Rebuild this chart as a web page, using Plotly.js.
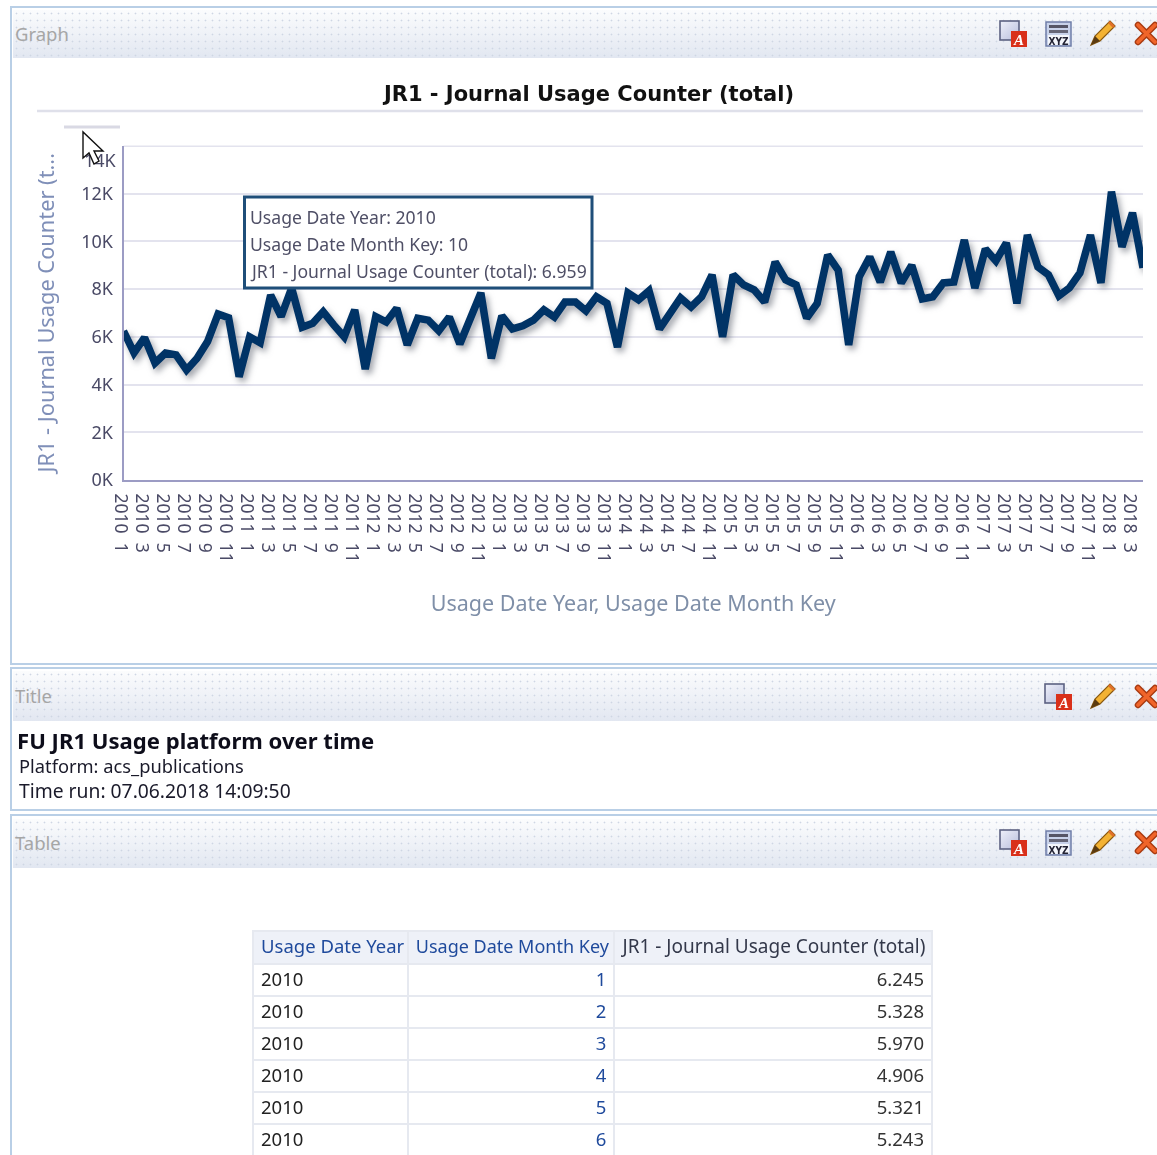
<!DOCTYPE html>
<html>
<head>
<meta charset="utf-8">
<script src="https://cdn.plot.ly/plotly-3.0.1.min.js"></script>
<style>
html,body{margin:0;padding:0;background:#fff;overflow:hidden}
#page{position:relative;width:1157px;height:1155px;overflow:hidden;font-family:"Noto Sans",sans-serif;filter:blur(0.4px)}
.panel{position:absolute;left:10px;width:1160px;border:2px solid #b9cfe6;box-sizing:border-box;background:#fff}
.head{position:absolute;left:13px;width:1144px;background:radial-gradient(circle,#cfd6e4 0.8px,transparent 1.1px) 0 0/7px 7px,linear-gradient(#fbfcfd,#e2e7f1);color:#a6a6a6;font-size:18.5px;text-indent:2px}
.t{position:absolute;white-space:nowrap;color:#1a1a2a}
#chart{position:absolute;left:0;top:0}
svg.ic{position:absolute;overflow:visible}
</style>
</head>
<body>
<div id="page">
  <div class="panel" style="top:6px;height:659px"></div>
  <div class="panel" style="top:667px;height:144px"></div>
  <div class="panel" style="top:814px;height:360px"></div>
  <div class="head" style="top:10px;height:48px;line-height:47px">Graph</div>
  <div class="head" style="top:671px;height:50px;line-height:50px">Title</div>
  <div class="head" style="top:819px;height:49px;line-height:47px">Table</div>
  <div class="t" style="left:17px;top:725px;font-size:22.1px;font-weight:700;color:#0d0d1a">FU JR1 Usage platform over time</div>
  <div class="t" style="left:19px;top:753px;font-size:18.3px">Platform: acs_publications</div>
  <div class="t" style="left:19px;top:777px;font-size:19.3px">Time run: 07.06.2018 14:09:50</div>
  <div id="chart"></div>
  <div id="icons"></div>
</div>
<script>
const chartTitle = 'JR1 - Journal Usage Counter (total)';
const yTitle = 'JR1 - Journal Usage Counter (t...';
const xTitle = 'Usage Date Year, Usage Date Month Key';
const years = [2010,2010,2010,2010,2010,2010,2010,2010,2010,2010,2010,2010,
  2011,2011,2011,2011,2011,2011,2011,2011,2011,2011,2011,2011,
  2012,2012,2012,2012,2012,2012,2012,2012,2012,2012,2012,2012,
  2013,2013,2013,2013,2013,2013,2013,2013,2013,2013,2013,2013,
  2014,2014,2014,2014,2014,2014,2014,2014,2014,2014,
  2015,2015,2015,2015,2015,2015,2015,2015,2015,2015,2015,2015,
  2016,2016,2016,2016,2016,2016,2016,2016,2016,2016,2016,2016,
  2017,2017,2017,2017,2017,2017,2017,2017,2017,2017,2017,2017,
  2018,2018,2018,2018];
const months = [1,2,3,4,5,6,7,8,9,10,11,12,
  1,2,3,4,5,6,7,8,9,10,11,12,
  1,2,3,4,5,6,7,8,9,10,11,12,
  1,2,3,4,5,6,7,8,9,10,11,12,
  1,2,3,4,5,6,7,9,11,12,
  1,2,3,4,5,6,7,8,9,10,11,12,
  1,2,3,4,5,6,7,8,9,10,11,12,
  1,2,3,4,5,6,7,8,9,10,11,12,
  1,2,3,4];
const usage = [6245,5328,5970,4906,5321,5243,4612,5100,5800,6959,6800,4330,
  6000,5750,7750,6850,8050,6400,6570,7050,6500,6000,7130,4650,
  6850,6620,7200,5660,6780,6700,6250,6830,5700,6700,7840,5100,
  6880,6330,6460,6700,7130,6830,7460,7460,7090,7680,7400,5570,
  7840,7550,7930,6330,6920,7630,7250,7680,8600,6000,
  8600,8180,7970,7460,9140,8390,8180,6790,7400,9430,8800,5660,
  8520,9350,8300,9560,8260,9000,7590,7680,8260,8300,10060,8050,
  9680,9180,9940,7400,10270,8930,8600,7720,8050,8680,10270,8260,
  12080,9770,11200,8890];
const yTickVals = [0,2000,4000,6000,8000,10000,12000,14000];
const yTickText = ['0K','2K','4K','6K','8K','10K','12K',''];
const yTopLabel = '14K';
const yTop = 14000;
const tableHeader = ['Usage Date Year','Usage Date Month Key','JR1 - Journal Usage Counter (total)'];
const tableRows = 6;
const tipIndex = 9;

const fmt = v => String(v).replace(/(\d)(\d{3})$/, '$1.$2');
const nb = s => s.replace(/ /g, '\u00a0');
const cats = years.map((y,i) => y + '\u00a0\u00a0' + months[i]);
const W = 1157, H = 1155;
const font = '"Noto Sans", sans-serif';
const px = v => v / W, py = v => 1 - v / H;

const tipLines = ['Usage Date Year: ' + years[tipIndex],
  'Usage Date Month Key: ' + months[tipIndex],
  chartTitle + ': ' + fmt(usage[tipIndex])];
const tipY = [217, 244, 271];

const line = {
  type: 'scatter', mode: 'lines', x: cats, y: usage, cliponaxis: true,
  line: {color: '#003366', width: 7.5, shape: 'linear'}, hoverinfo: 'skip',
  xaxis: 'x', yaxis: 'y'
};
const table = {
  type: 'table',
  domain: {x: [px(253), px(933)], y: [0, py(931)]},
  columnwidth: [155, 207, 318],
  header: {
    values: tableHeader.map(nb), height: 33, align: 'left',
    fill: {color: '#eef1f8'}, line: {color: '#e6e9f0', width: 2},
    font: {family: font, size: [18.5, 18, 19], color: ['#1f4a9c', '#1f4a9c', '#33384a']}
  },
  cells: {
    values: [
      years.slice(0, tableRows).map(String),
      months.slice(0, tableRows).map(String),
      usage.slice(0, tableRows).map(fmt)
    ],
    height: 32, align: ['left', 'right', 'right'],
    fill: {color: '#fff'}, line: {color: '#e6e9f0', width: 2},
    font: {family: font, size: 18.5, color: ['#222', '#1f4a9c', '#333']}
  }
};
const layout = {
  width: W, height: H, margin: {l: 0, r: 0, t: 0, b: 0},
  paper_bgcolor: 'rgba(0,0,0,0)', plot_bgcolor: 'rgba(0,0,0,0)',
  showlegend: false, font: {family: font},
  title: {text: '<b>' + chartTitle + '</b>', x: 589 / W, xanchor: 'center', y: py(94), yanchor: 'middle',
    font: {family: '"DejaVu Sans", sans-serif', size: 21, color: '#111'}},
  xaxis: {
    domain: [px(123.5), px(1143)], type: 'category', range: [0, 97],
    tickmode: 'array', tickvals: cats.filter((c, i) => i % 2 === 0), ticktext: cats.filter((c, i) => i % 2 === 0),
    tickangle: 90, ticks: 'outside', ticklen: 8, tickcolor: 'rgba(0,0,0,0)', ticklabelshift: -3,
    tickfont: {family: font, size: 17.5, color: '#4a4a66'},
    showgrid: false, showline: true, linecolor: '#9c9cc4', linewidth: 2, zeroline: false,
    title: {text: xTitle, standoff: 34, font: {family: font, size: 21.5, color: '#7f8fa8'}},
    automargin: false
  },
  yaxis: {
    domain: [py(480), py(145.5)], range: [0, 14020],
    tickmode: 'array', tickvals: yTickVals, ticktext: yTickText,
    ticks: 'outside', ticklen: 5, tickcolor: 'rgba(0,0,0,0)',
    tickfont: {family: font, size: 18, color: '#4a4a66'},
    showgrid: true, gridcolor: '#e3e3ee', gridwidth: 2,
    showline: true, linecolor: '#9c9cc4', linewidth: 2, zeroline: false,
    title: {text: yTitle, standoff: 21, font: {family: font, size: 21.8, color: '#7f8fb8'}},
    automargin: false
  },
  shapes: [
    {type: 'line', xref: 'paper', yref: 'paper', x0: px(37), x1: px(1143), y0: py(111), y1: py(111), line: {color: '#dfe0ea', width: 2.5}},
    {type: 'line', xref: 'paper', yref: 'paper', x0: px(64), x1: px(120), y0: py(127), y1: py(127), line: {color: '#d9d9e4', width: 3}},
    {type: 'line', xref: 'x domain', yref: 'y', x0: 0, x1: 1, y0: yTop, y1: yTop, layer: 'below', line: {color: '#e3e3ee', width: 2}},
    {type: 'rect', xref: 'paper', yref: 'paper', layer: 'above', x0: px(244.5), x1: px(592), y0: py(197), y1: py(288),
      fillcolor: '#fff', line: {color: '#1f4e79', width: 3}}
  ],
  annotations: tipLines.map((t, i) => ({
      xref: 'paper', yref: 'paper', x: px(250), y: py(tipY[i]), xanchor: 'left', yanchor: 'middle',
      xshift: -1, showarrow: false, text: t, borderpad: 0,
      font: {family: font, size: 17.6, color: '#4f4f66'}
    })).concat([
    {xref: 'paper', yref: 'paper', x: px(119), y: py(160), xanchor: 'right', yanchor: 'middle',
      showarrow: false, text: yTopLabel, font: {family: font, size: 18, color: '#4a4a66'}}
  ])
};

Plotly.newPlot('chart', [line, table], layout, {displayModeBar: false}).then(() => {
  document.querySelectorAll('.scatterlayer .js-line').forEach(p => {
    p.style.filter = 'drop-shadow(3px 4px 3px rgba(70,75,90,.5))';
  });
});

/* toolbar icons and mouse pointer (screenshot chrome, not data) */
const pdf = (x, y) => `<svg class="ic" style="left:${x}px;top:${y}px" width="30" height="30">
  <defs><linearGradient id="g${x}${y}" x1="0" y1="0" x2="1" y2="1"><stop offset="0" stop-color="#eef0fa"/><stop offset="1" stop-color="#b8bedc"/></linearGradient></defs>
  <rect x="1" y="1" width="19" height="19" fill="url(#g${x}${y})" stroke="#5c6282" stroke-width="1.6"/>
  <rect x="12" y="11" width="16" height="16" fill="#d9301a"/>
  <text x="20" y="25" text-anchor="middle" font-family="Liberation Serif" font-style="italic" font-weight="700" font-size="15" fill="#fff">A</text></svg>`;
const xyz = (x, y) => `<svg class="ic" style="left:${x}px;top:${y}px" width="28" height="28">
  <rect x="1" y="1" width="25" height="24" fill="#c8d2ea" stroke="#6f7ea8" stroke-width="1.5"/>
  <rect x="4" y="4" width="19" height="3" fill="#556"/><rect x="4" y="9" width="19" height="3" fill="#667"/>
  <rect x="3" y="14" width="21" height="10" fill="#f4f6fb"/>
  <text x="13.5" y="23.5" text-anchor="middle" font-family="DejaVu Sans" font-weight="700" font-size="10" textLength="20" lengthAdjust="spacingAndGlyphs" fill="#223">XYZ</text></svg>`;
const pen = (x, y) => `<svg class="ic" style="left:${x}px;top:${y}px" width="28" height="28">
  <path d="M2 26 L6 17 L21 2 L26 7 L11 22 Z" fill="#f3b233" stroke="#8a5a12" stroke-width="1.2"/>
  <path d="M2 26 L6 17 L11 22 Z" fill="#5a3a10"/><path d="M21 2 L26 7 L24 9 L19 4Z" fill="#e0702a"/></svg>`;
const cross = (x, y) => `<svg class="ic" style="left:${x}px;top:${y}px" width="24" height="24">
  <path d="M3 3 L20 20 M20 3 L3 20" stroke="#a83a10" stroke-width="6.5" stroke-linecap="round"/>
  <path d="M3 3 L20 20 M20 3 L3 20" stroke="#f0652a" stroke-width="3.8" stroke-linecap="round"/></svg>`;
const cursor = `<svg class="ic" style="left:82px;top:131px" width="26" height="40">
  <path d="M1 1 L1 27 L7 22 L12 33 L17 30 L12 20 L21 20 Z" fill="#fff" stroke="#111" stroke-width="1.4"/></svg>`;
document.getElementById('icons').innerHTML =
  pdf(999, 20) + xyz(1045, 21) + pen(1089, 19) + cross(1135, 22) +
  pdf(1044, 683) + pen(1089, 682) + cross(1135, 685) +
  pdf(999, 829) + xyz(1045, 830) + pen(1089, 828) + cross(1135, 831) + cursor;
</script>
</body>
</html>
